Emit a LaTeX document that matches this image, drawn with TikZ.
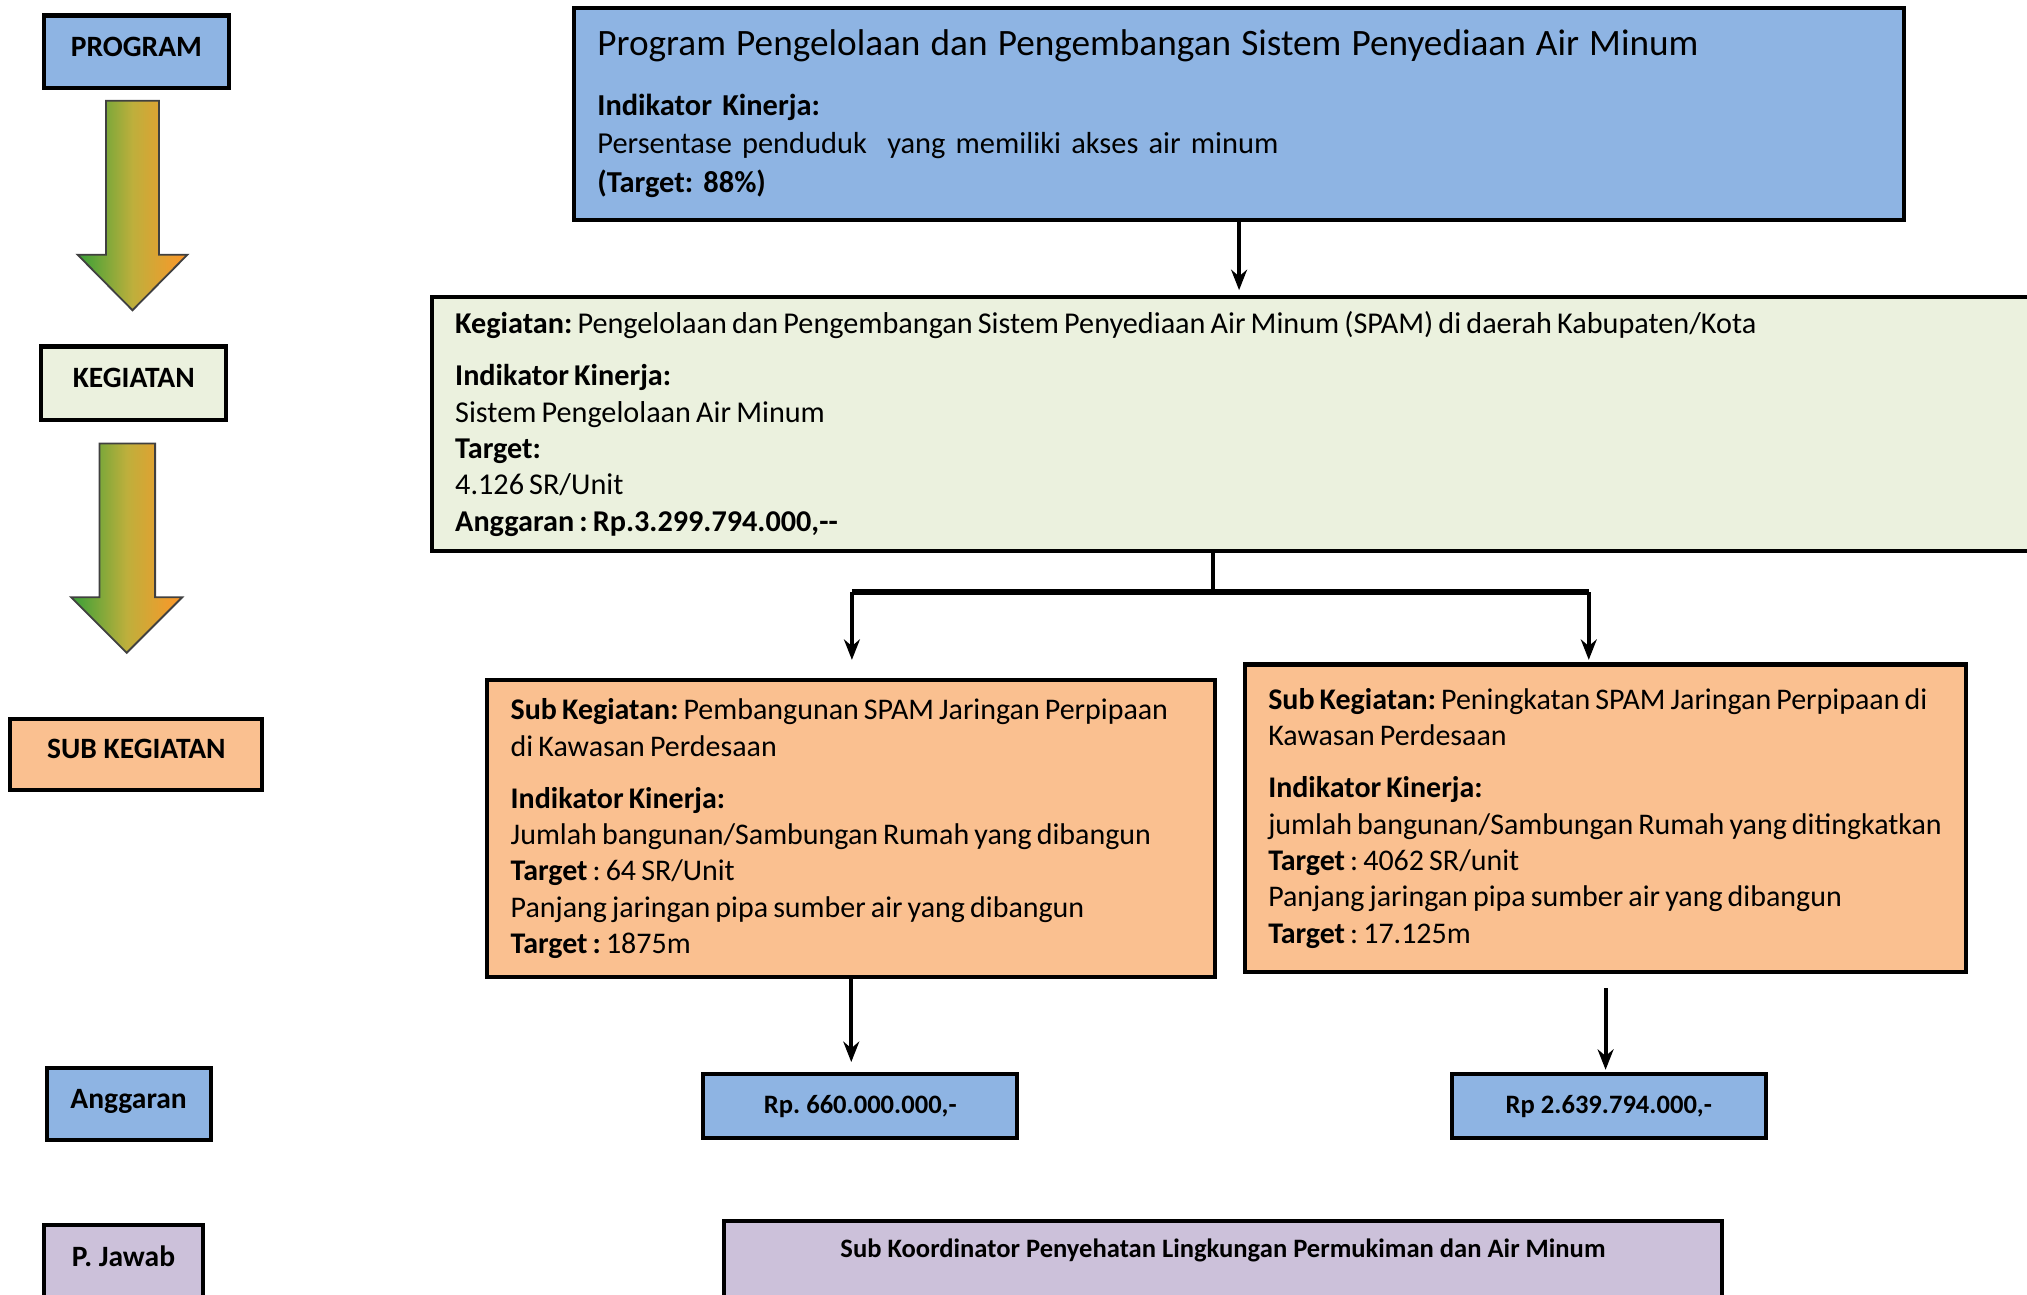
\documentclass[tikz,border=0pt]{standalone}
\usepackage{fontspec}
\setmainfont{Carlito}
\usetikzlibrary{positioning, arrows.meta}
\frenchspacing
\hyphenpenalty=10000
\protected\def\tightspace{\spaceskip=0.17em\relax}
\definecolor{progblue}{RGB}{142,180,227}
\definecolor{keggreen}{RGB}{235,241,222}
\definecolor{suborange}{RGB}{250,192,144}
\definecolor{pjpurple}{RGB}{204,193,218}
\definecolor{arrgreen}{RGB}{55,160,55}
\definecolor{arrolive}{RGB}{190,175,60}
\definecolor{arrorange}{RGB}{255,150,40}
\tikzstyle{levelbox} = [
    rectangle, draw, line width=1.8pt,
    font=\bfseries\fontsize{13}{15}\selectfont,
    inner sep=0pt, minimum height=1.12cm,
    text height=0.32cm, text depth=0.18cm % text sits a little above the middle
]
\tikzstyle{infobox} = [
    rectangle, draw, line width=1.8pt,
    align=left, inner xsep=0.36cm, inner ysep=0pt % text starts 18px from the border
]
\tikzstyle{budget} = [
    rectangle, draw, line width=1.8pt, fill=progblue,
    font=\bfseries\fontsize{11.7}{13}\selectfont,
    minimum width=4.86cm, minimum height=0.98cm
]
\tikzstyle{conn} = [line width=1.8pt, -{Stealth[length=9pt, width=7pt]}]
\tikzstyle{flowarrow} = [
    draw=black!75, line width=0.8pt,
    left color=arrgreen, right color=arrorange, middle color=arrolive
]

\begin{document}
\begin{tikzpicture}[x=0.02cm, y=-0.02cm]
        \useasboundingbox (0,0) rectangle (1568,1001);

        % Level labels on the left
        \node[levelbox, fill=progblue, minimum width=2.86cm] (lprog) at (105.5,40) {PROGRAM};
        \node[levelbox, fill=keggreen, minimum width=2.86cm, minimum height=1.14cm] (lkeg) at (103.5,296.5) {KEGIATAN};
        \node[levelbox, fill=suborange, minimum width=3.90cm, minimum height=1.10cm] (lsub) at (105.5,583.5) {SUB KEGIATAN};
        \node[levelbox, fill=progblue, minimum width=2.54cm] (lang) at (99.5,854) {Anggaran};
        \node[levelbox, fill=pjpurple, minimum width=2.46cm, anchor=north,
              inner ysep=0.2cm, text height=0.44cm, text depth=0.8cm] (lpj) at (95.5,946) {P. Jawab};

        % Shaded down arrows between the labels
        \shade[flowarrow] (82,78) -- (123,78) -- (123,197) -- (145,197) -- (102.5,240)
            -- (60,197) -- (82,197) -- cycle;
        \shade[flowarrow] (77,343) -- (120,343) -- (120,462) -- (141,462) -- (98,505)
            -- (55,462) -- (77,462) -- cycle;

        % Program
        \node[infobox, fill=progblue, text width=19.86cm, minimum height=3.28cm,
              font=\fontsize{13.4}{17}\selectfont] (prog) at (958.5,88) {
            {\fontsize{16.4}{19}\selectfont Program Pengelolaan dan Pengembangan Sistem Penyediaan Air Minum}\\[9pt]
            \textbf{Indikator Kinerja:}\\
            Persentase penduduk\ \ yang memiliki akses air minum\\
            \textbf{(Target: 88\%)}
        };

        % Kegiatan (runs off the right edge)
        \node[infobox, fill=keggreen, text width=24.4cm, minimum height=3.92cm,
              font=\fontsize{13.3}{16}\selectfont] (keg) at (962,328) {\tightspace
            \textbf{Kegiatan:} Pengelolaan dan Pengembangan Sistem Penyediaan Air Minum (SPAM) di daerah Kabupaten/Kota\\[6.8pt]
            \textbf{Indikator Kinerja:}\\
            Sistem Pengelolaan Air Minum\\
            \textbf{Target:}\\
            4.126 SR/Unit\\
            \textbf{Anggaran : Rp.3.299.794.000,-{}-}
        };

        % Sub kegiatan
        \node[infobox, fill=suborange, text width=10.54cm, minimum height=4.60cm,
              font=\fontsize{13.2}{16}\selectfont] (sub1) at (658.5,641) {\tightspace
            \mbox{\textbf{Sub Kegiatan:} Pembangunan SPAM Jaringan Perpipaan}\\
            di Kawasan Perdesaan\\[6.8pt]
            \textbf{Indikator Kinerja:}\\
            \mbox{Jumlah bangunan/Sambungan Rumah yang dibangun}\\
            \textbf{Target} : 64 SR/Unit\\
            \mbox{Panjang jaringan pipa sumber air yang dibangun}\\
            \textbf{Target :} 1875m
        };
        \node[infobox, fill=suborange, text width=10.44cm, minimum height=4.76cm,
              font=\fontsize{13.2}{16}\selectfont] (sub2) at (1242,633) {\tightspace
            \mbox{\textbf{Sub Kegiatan:} Peningkatan SPAM Jaringan Perpipaan di}\\
            Kawasan Perdesaan\\[6.8pt]
            \textbf{Indikator Kinerja:}\\
            \mbox{jumlah bangunan/Sambungan Rumah yang ditingkatkan}\\
            \textbf{Target} : 4062 SR/unit\\
            \mbox{Panjang jaringan pipa sumber air yang dibangun}\\
            \textbf{Target} : 17.125m
        };

        % Anggaran per sub kegiatan
        \node[budget] (rp1) [below=1.44cm of sub1, xshift=0.14cm] {Rp. 660.000.000,-};
        \node[budget] (rp2) [below=1.52cm of sub2, xshift=0.05cm] {Rp 2.639.794.000,-};

        % Penanggung jawab (runs off the bottom edge)
        \node[rectangle, draw, line width=1.8pt, fill=pjpurple, anchor=north,
              minimum width=15.44cm, inner ysep=0.2cm, text height=0.36cm, text depth=0.8cm,
              font=\bfseries\fontsize{11.7}{13}\selectfont] (pj) at (946,943)
            {Sub Koordinator Penyehatan Lingkungan Permukiman dan Air Minum};

        % Connectors
        \coordinate (fork) at (938,458);
        \coordinate (dropL) at (659,458);
        \coordinate (dropR) at (1229,458);
        \draw[conn, shorten >=0.08cm] (prog.south) -- (prog.south |- keg.north);
        \draw[line width=1.8pt] (fork |- keg.south) -- (fork);
        \draw[line width=2.8pt] (dropL) -- (dropR);
        \draw[conn, shorten >=0.28cm] (dropL) -- (dropL |- sub1.north);
        \draw[conn, shorten >=0.04cm] (dropR) -- (dropR |- sub2.north);
        \draw[conn, shorten >=0.16cm] (sub1.south) -- (sub1.south |- rp1.north);
        \draw[conn, shorten <=0.22cm, shorten >=0.04cm] (sub2.south) -- (sub2.south |- rp2.north);

    \end{tikzpicture}
\end{document}
